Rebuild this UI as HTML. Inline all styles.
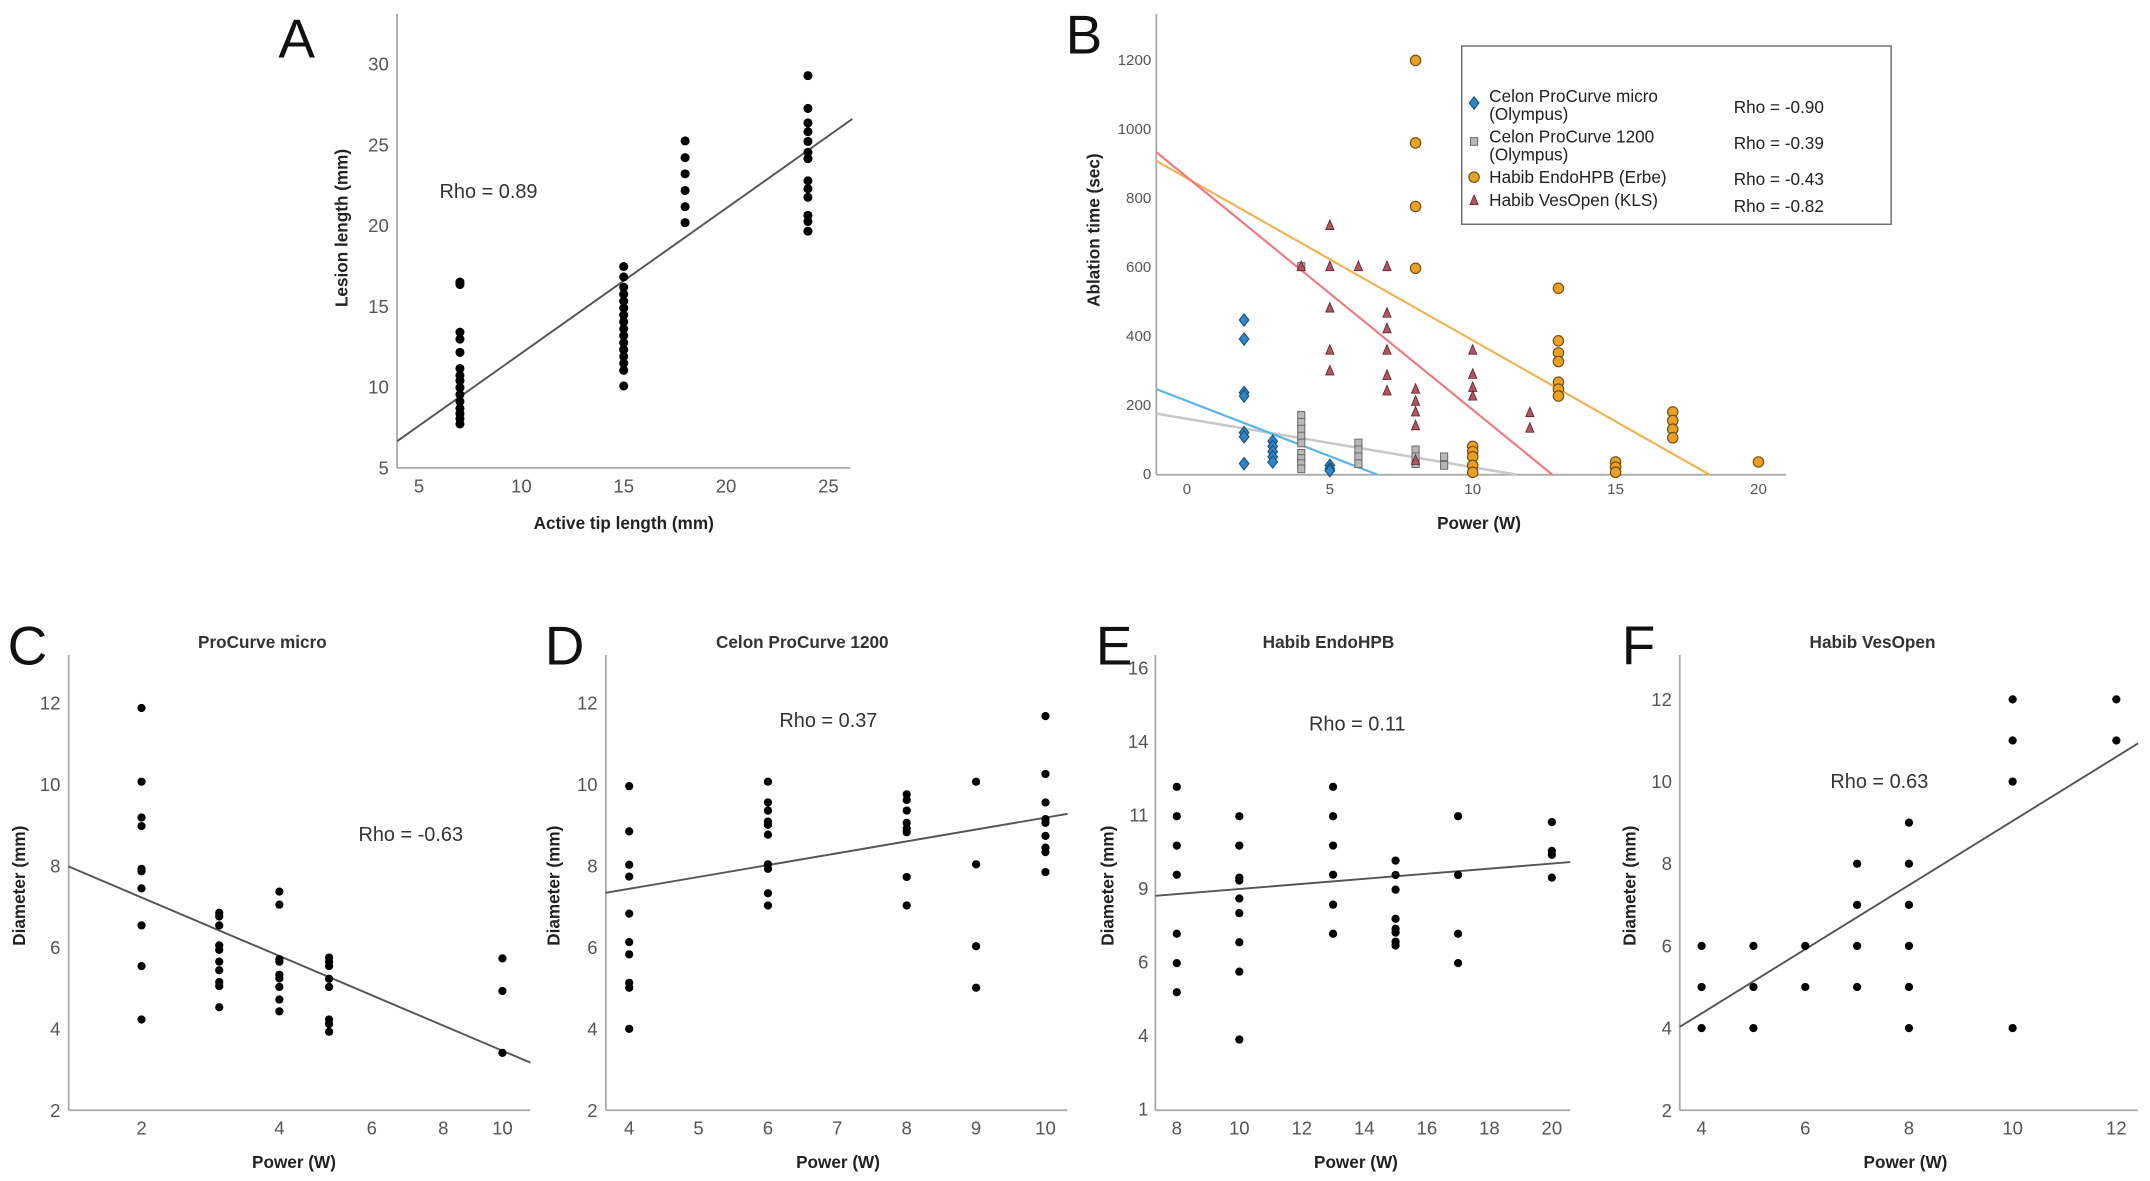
<!DOCTYPE html>
<html><head><meta charset="utf-8"><style>
html,body{margin:0;padding:0;background:#fff;}
svg{display:block;font-family:"Liberation Sans",Arial,sans-serif;}
</style></head><body>
<svg id="fig" width="2150" height="1181" viewBox="0 0 1565 860" preserveAspectRatio="none" xmlns="http://www.w3.org/2000/svg">
<rect width="1565" height="860" fill="#fff"/>
</svg>
<script>
// ---------- Panel A data ----------
const aX = [7,15,18,24];
const aY7 = [16.5,16.35,13.4,12.97,12.15,11.15,10.72,10.4,9.97,9.54,9.11,8.68,8.36,8.04,7.72];
const aY15 = [17.46,16.82,16.18,15.75,15.32,14.89,14.46,14.04,13.61,13.18,12.75,12.32,11.9,11.47,11.04,10.07];
const aY18 = [25.24,24.2,23.2,22.17,21.17,20.18];
const aY24 = [29.28,27.25,26.35,25.81,25.21,24.53,24.14,22.77,22.28,21.75,20.63,20.25,19.65];
const aXTicks = [5,10,15,20,25];
const aYTicks = [5,10,15,20,25,30];
const aFit = [3.93,6.65,26.17,26.6];

// ---------- Panel B data ----------
const bBlueX = [2,2,2,2,2,2,2,3,3,3,3,3,5,5,5];
const bBlueY = [448,393,238,228,122,110,32,97,82,67,52,37,27,17,12];
const bGrayX = [4,4,4,4,4,4,4,4,4,4,6,6,6,6,8,8,8,9,9];
const bGrayY = [603,172,152,132,112,92,62,47,32,17,92,72,52,32,72,52,32,52,27];
const bOrangeX = [8,8,8,8,10,10,10,10,10,13,13,13,13,13,13,13,15,15,15,17,17,17,17,20];
const bOrangeY = [1200,961,777,598,82,67,52,27,7,540,388,353,328,268,248,228,37,22,7,182,157,132,107,37];
const bRedX = [4,5,5,5,5,5,6,7,7,7,7,7,7,8,8,8,8,8,10,10,10,10,10,12,12];
const bRedY = [603,722,603,483,361,301,603,603,468,423,361,288,243,248,213,182,142,42,361,291,253,228,42,180,135];
const bXTicks = [0,5,10,15,20];
const bYTicks = [0,200,400,600,800,1000,1200];
const bFitBlue = [-1.07,248,6.67,0];
const bFitGray = [-1.07,177,11.56,0];
const bFitRed = [-1.07,934,12.79,0];
const bFitOrange = [-1.07,909,18.29,0];
const bLegend = ["Celon ProCurve micro|(Olympus)","Celon ProCurve 1200|(Olympus)","Habib EndoHPB (Erbe)","Habib VesOpen (KLS)"];
const bRho = ["Rho = -0.90","Rho = -0.39","Rho = -0.43","Rho = -0.82"];

// ---------- Panel C data ----------
const cX = [2,2,2,2,2,2,2,2,2,2,3,3,3,3,3,3,3,3,3,3,4,4,4,4,4,4,4,4,4,5,5,5,5,5,5,5,5,10,10,10];
const cY = [11.88,10.07,9.19,8.98,7.93,7.87,7.45,6.54,5.54,4.23,6.85,6.76,6.54,6.05,5.94,5.65,5.44,5.15,5.05,4.53,7.37,7.05,5.71,5.65,5.33,5.24,5.03,4.72,4.43,5.75,5.65,5.54,5.23,5.03,4.23,4.12,3.93,5.73,4.93,3.41];
const cXTicks = [2,4,6,8,10];
const cYTicks = [2,4,6,8,10,12];
const cFit = [1.31,7.99,11.07,3.17];

// ---------- Panel D data ----------
const dCats = ["4","5","6","7","8","9","10"];
const dX = ["4","4","4","4","4","4","4","4","4","4","6","6","6","6","6","6","6","6","6","6","8","8","8","8","8","8","8","8","9","9","9","9","10","10","10","10","10","10","10","10","10"];
const dY = [9.96,8.85,8.03,7.74,6.83,6.13,5.83,5.13,5.01,4.0,10.07,9.56,9.36,9.09,9.01,8.77,8.04,7.93,7.33,7.03,9.76,9.62,9.36,9.06,8.92,8.83,7.73,7.03,10.07,8.04,6.03,5.01,11.68,10.26,9.56,9.15,9.06,8.74,8.45,8.34,7.85];
const dYTicks = [2,4,6,8,10,12];
const dFit = [-0.34,7.34,6.32,9.28];

// ---------- Panel E data ----------
const eX = [8,8,8,8,8,8,8,10,10,10,10,10,10,10,10,10,13,13,13,13,13,13,15,15,15,15,15,15,15,15,17,17,17,17,20,20,20,20];
const eY = [11.96,10.96,9.96,8.97,6.96,5.96,4.97,10.96,9.96,8.87,8.77,8.16,7.66,6.67,5.67,3.36,11.96,10.96,9.96,8.97,7.95,6.96,9.45,8.96,8.46,7.47,7.13,7.0,6.69,6.56,10.96,8.96,6.96,5.96,10.76,9.78,9.65,8.87];
const eXTicks = [8,10,12,14,16,18,20];
const eYTicks = [1,3.5,6,8.5,11,13.5,16];
const eYLabels = ["1","4","6","9","11","14","16"];
const eFit = [7.31,8.25,20.59,9.40];

// ---------- Panel F data ----------
const fX = [4,4,4,5,5,5,6,6,7,7,7,7,8,8,8,8,8,8,10,10,10,10,12,12];
const fY = [6,5,4,6,5,4,6,5,8,7,6,5,9,8,7,6,5,4,12,11,10,4,12,11];
const fXTicks = [4,6,8,10,12];
const fYTicks = [2,4,6,8,10,12];
const fFit = [3.58,4.03,12.42,10.93];

const NS = "http://www.w3.org/2000/svg";
const svg = document.getElementById('fig');
function el(tag, attrs, parent, text){
  const e = document.createElementNS(NS, tag);
  for (const k in attrs) e.setAttribute(k, attrs[k]);
  if (text !== undefined) e.textContent = text;
  (parent||svg).appendChild(e);
  return e;
}
function lin(d0,d1,r0,r1){ return v => r0 + (v-d0)*(r1-r0)/(d1-d0); }
const AX = '#a8a8a8', TK = '#555';

function group(name){
  const g = el('g', {});
  
  
  return g;
}
function txt(g, name, x, y, s, opts){
  const t = el('text', Object.assign({x:x, y:y, 'font-size':13.5, fill:TK, 'text-anchor':'middle', 'dominant-baseline':'central'}, opts||{}), g, s);
  
  
  return t;
}
function axes(g, x0, x1, y0, y1){
  const l1 = el('line', {x1:x0, y1:y0, x2:x0, y2:y1, stroke:AX, 'stroke-width':1.3}, g);
  
  
  const l2 = el('line', {x1:x0, y1:y1, x2:x1, y2:y1, stroke:AX, 'stroke-width':1.3}, g);
  
  
}
function fitLine(g, sx, sy, f, color, w){
  const l = el('line', {x1:sx(f[0]), y1:sy(f[1]), x2:sx(f[2]), y2:sy(f[3]), stroke:color, 'stroke-width':w||1.4}, g);
  
  
}
function dot(g, x, y, r){
  const c = el('circle', {cx:x, cy:y, r:r, fill:'#000'}, g);
  
  
}
function letter(g, s, x, y){
  const t = el('text', {x:x, y:y, 'font-size':40, fill:'#111', 'text-anchor':'middle', 'dominant-baseline':'central'}, g, s);
  
  
}
function ytitle(g, s, x, y){
  const t = el('text', {x:0, y:0, 'font-size':12.5, 'font-weight':'bold', fill:'#222', 'text-anchor':'middle', 'dominant-baseline':'central', transform:`translate(${x},${y}) rotate(-90)`}, g, s);
  
  
}
function xtitle(g, s, x, y){
  txt(g, 'x-axis-title', x, y, s, {'font-size':12.5, 'font-weight':'bold', fill:'#222'});
}

// ===== Panel A =====
(function(){
  const g = group('panel-a');
  const sx = lin(5,25,305,603), sy = lin(5,30,340.7,46.6);
  axes(g, 289, 619, 10, 340.7);
  aXTicks.forEach(v => txt(g,'x-tick-label', sx(v), 354, v));
  aYTicks.forEach(v => txt(g,'y-tick-label', 283, sy(v), v, {'text-anchor':'end'}));
  fitLine(g, sx, sy, aFit, '#555', 1.4);
  const cols = [aY7,aY15,aY18,aY24];
  aX.forEach((x,i) => cols[i].forEach(y => dot(g, sx(x), sy(y), 3.3)));
  letter(g,'A',216,28);
  txt(g,'rho-label',355.6,140,'Rho = 0.89',{'font-size':14.5,fill:'#333'});
  ytitle(g,'Lesion length (mm)',248.5,166);
  xtitle(g,'Active tip length (mm)',454,381);
})();

// ===== Panel B =====
(function(){
  const g = group('panel-b');
  const sx = lin(0,20,864,1280), sy = lin(0,1200,345.7,44);
  axes(g, 841.7, 1300, 10, 345.7);
  bXTicks.forEach(v => txt(g,'x-tick-label', sx(v), 356.6, v, {'font-size':11}));
  bYTicks.forEach(v => txt(g,'y-tick-label', 838, sy(v), v, {'text-anchor':'end','font-size':11}));
  fitLine(g, sx, sy, bFitOrange, '#f0b457', 1.6);
  fitLine(g, sx, sy, bFitRed, '#ee7b83', 1.6);
  fitLine(g, sx, sy, bFitGray, '#c8c8c8', 1.8);
  fitLine(g, sx, sy, bFitBlue, '#5ab4ec', 1.6);
  function diamond(x,y){ const p = el('polygon',{points:`${x},${y-4.5} ${x+3.5},${y} ${x},${y+4.5} ${x-3.5},${y}`, fill:'#2d86c8', stroke:'#1b4f78','stroke-width':0.8}, g);   }
  function square(x,y){ const p = el('rect',{x:x-2.6,y:y-2.8,width:5.2,height:5.6, fill:'#b8b8b8', stroke:'#666','stroke-width':0.7}, g);   }
  function circ(x,y){ const p = el('circle',{cx:x,cy:y,r:3.8, fill:'#e9a124', stroke:'#6b4a10','stroke-width':0.8}, g);   }
  function tri(x,y){ const p = el('polygon',{points:`${x},${y-4} ${x+3},${y+3} ${x-3},${y+3}`, fill:'#b25563', stroke:'#5a2530','stroke-width':0.6}, g);   }
  bGrayX.forEach((x,i)=>square(sx(x),sy(bGrayY[i])));
  bRedX.forEach((x,i)=>tri(sx(x),sy(bRedY[i])));
  bOrangeX.forEach((x,i)=>circ(sx(x),sy(bOrangeY[i])));
  bBlueX.forEach((x,i)=>diamond(sx(x),sy(bBlueY[i])));
  const lg = el('g',{}, g);
  
  
  const box = el('rect',{x:1064,y:33.5,width:312.6,height:129.8,fill:'#fff',stroke:'#666','stroke-width':1}, lg);
  
  
  const ys = [[70,83],[99.5,112.6],[129],[145.6]];
  const ry = [78,104,130.5,150];
  bLegend.forEach((s,i)=>{
    const parts = s.split('|');
    parts.forEach((p,j)=> txt(lg,'legend-entry', 1084, ys[i][j], p, {'text-anchor':'start','font-size':12.5,fill:'#222'}));
    txt(lg,'legend-rho', 1262, ry[i], bRho[i], {'text-anchor':'start','font-size':12.5,fill:'#222'});
  });
  diamond(1073,75); square(1073,103); circ(1073,129); tri(1073,146);
  letter(g,'B',789,25);
  ytitle(g,'Ablation time (sec)',796,167.6);
  xtitle(g,'Power (W)',1076.6,381);
})();

// ===== bottom panels =====
function bottomPanel(name, L, x0, x1, title, titleX, rho, rhoX, rhoY, ytX, xtX){
  const g = group(name);
  axes(g, x0, x1, 477, 808.5);
  letter(g, L, x0-30, 470);
  txt(g,'panel-title', titleX, 467.5, title, {'font-size':12.5,'font-weight':'bold',fill:'#333'});
  txt(g,'rho-label', rhoX, rhoY, rho, {'font-size':14.5,fill:'#333'});
  ytitle(g,'Diameter (mm)', ytX, 645);
  xtitle(g,'Power (W)', xtX, 846);
  return g;
}
// C
(function(){
  const g = bottomPanel('panel-c','C',50,386,'ProCurve micro',191,'Rho = -0.63',299,608,14,214);
  const sx = v => 103 + (Math.pow(v,0.25) - Math.pow(2,0.25))*446;
  const sy = lin(2,12,808.5,512);
  cXTicks.forEach(v => txt(g,'x-tick-label', sx(v), 821.5, v));
  cYTicks.forEach(v => txt(g,'y-tick-label', 44, sy(v), v, {'text-anchor':'end'}));
  fitLine(g, sx, sy, cFit, '#555');
  cX.forEach((x,i)=>dot(g, sx(x), sy(cY[i]), 3));
})();
// D
(function(){
  const g = bottomPanel('panel-d','D',441,777,'Celon ProCurve 1200',584,'Rho = 0.37',603,525,403,610);
  const sx = i => 458 + i*50.5;
  const sy = lin(2,12,808.5,512);
  dCats.forEach((c,i) => txt(g,'x-tick-label', sx(i), 821.5, c));
  dYTicks.forEach(v => txt(g,'y-tick-label', 435, sy(v), v, {'text-anchor':'end'}));
  fitLine(g, sx, sy, dFit, '#555');
  dX.forEach((x,i)=>dot(g, sx(dCats.indexOf(x)), sy(dY[i]), 3));
})();
// E
(function(){
  const g = bottomPanel('panel-e','E',841,1143,'Habib EndoHPB',967,'Rho = 0.11',988,527.5,806,987);
  const sx = lin(8,20,856.6,1129.6), sy = lin(1,16,807.5,486.5);
  eXTicks.forEach(v => txt(g,'x-tick-label', sx(v), 821.5, v));
  eYTicks.forEach((v,i) => txt(g,'y-tick-label', 836, sy(v), eYLabels[i], {'text-anchor':'end'}));
  fitLine(g, sx, sy, eFit, '#555');
  eX.forEach((x,i)=>dot(g, sx(x), sy(eY[i]), 3));
})();
// F
(function(){
  const g = bottomPanel('panel-f','F',1222.7,1556,'Habib VesOpen',1363,'Rho = 0.63',1368,569.5,1186,1387);
  const sx = lin(4,12,1238.6,1540.5), sy = lin(2,12,808.5,509.3);
  fXTicks.forEach(v => txt(g,'x-tick-label', sx(v), 821.5, v));
  fYTicks.forEach(v => txt(g,'y-tick-label', 1217, sy(v), v, {'text-anchor':'end'}));
  fitLine(g, sx, sy, fFit, '#555');
  fX.forEach((x,i)=>dot(g, sx(x), sy(fY[i]), 3));
})();
</script>
</body></html>
